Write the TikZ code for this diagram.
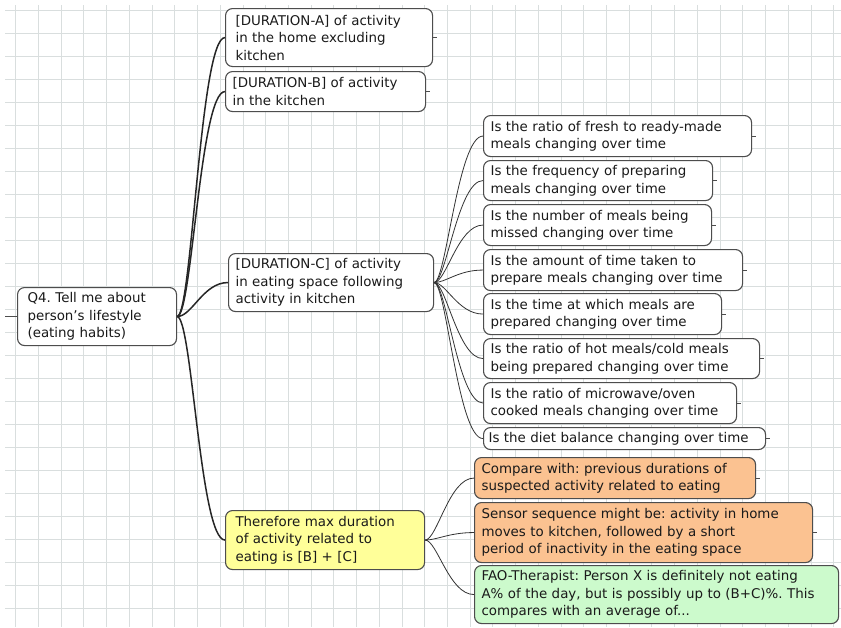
\documentclass[tikz,border=0pt]{standalone}
\usepackage{fontspec}
\setmainfont{DejaVu Sans}
\frenchspacing
\definecolor{mmline}{HTML}{4D4D4D}
\definecolor{mmgrid}{HTML}{D9DEDE}
\definecolor{mmtext}{HTML}{1A1A1A}
\definecolor{mmyellow}{HTML}{FFFF99}
\definecolor{mmorange}{HTML}{FBC291}
\definecolor{mmgreen}{HTML}{CCFACC}

\begin{document}
\begin{tikzpicture}[
  x=1pt, y=-1pt,
  every node/.style={font=\fontsize{13.4}{17.5}\selectfont, text=mmtext},
  topic/.style={rectangle, draw=mmline, line width=1.1pt, rounded corners=7pt, fill=white, anchor=north west, align=left, inner xsep=7pt, inner ysep=3pt},
  branch/.style={draw=black!85, line width=1.5pt},
  twig/.style={draw=black!80, line width=0.8pt},
  stub/.style={draw=mmline, line width=1pt},
  gridline/.style={mmgrid, line width=0.8pt},
]
\useasboundingbox (0,0) rectangle (841,627);
\fill[white] (0,0) rectangle (841,627);

% squared paper
\foreach \gx in {0,...,36} \draw[gridline] ({15.7+22.72*\gx},5) -- ++(0,622);
\foreach \gy in {0,...,26} \draw[gridline] (5,{10+23*\gy}) -- ++(836,0);

% central topic
\node[topic, inner xsep=10pt, text width=139, minimum height=58] (root) at (17,287) {Q4. Tell me about\\person's lifestyle\\(eating habits)};

% durations
\node[topic, inner xsep=10pt, text width=187, minimum height=58] (durA) at (225,8) {[DURATION-A] of activity\\in the home excluding\\kitchen};
\node[topic, text width=186, minimum height=40] (durB) at (225,71) {[DURATION-B] of activity\\in the kitchen};
\node[topic, text width=191, minimum height=58] (durC) at (228,253) {[DURATION-C] of activity\\in eating space following\\activity in kitchen};
\node[topic, inner xsep=10pt, fill=mmyellow, text width=179, minimum height=59] (maxdur) at (225,510) {Therefore max duration\\of activity related to\\eating is [B] + [C]};

% questions under duration C
\node[topic, text width=254, minimum height=41] (q1) at (483,115) {Is the ratio of fresh to ready-made\\meals changing over time};
\node[topic, text width=215, minimum height=40] (q2) at (483,160) {Is the frequency of preparing\\meals changing over time};
\node[topic, text width=214, minimum height=41] (q3) at (483,204) {Is the number of meals being\\missed changing over time};
\node[topic, text width=245, minimum height=41] (q4) at (483,249) {Is the amount of time taken to\\prepare meals changing over time};
\node[topic, text width=224, minimum height=41] (q5) at (483,293) {Is the time at which meals are\\prepared changing over time};
\node[topic, text width=262, minimum height=40] (q6) at (483,338) {Is the ratio of hot meals/cold meals\\being prepared changing over time};
\node[topic, text width=239, minimum height=41] (q7) at (483,382) {Is the ratio of microwave/oven\\cooked meals changing over time};
\node[topic, inner xsep=5pt, text width=272, minimum height=22, inner ysep=1pt] (q8) at (483,427) {Is the diet balance changing over time};

% notes under max duration
\node[topic, fill=mmorange, text width=267, minimum height=41] (cmp) at (474,457) {Compare with: previous durations of\\suspected activity related to eating};
\node[topic, fill=mmorange, text width=324, minimum height=60] (sensor) at (474,502) {Sensor sequence might be: activity in home\\moves to kitchen, followed by a short\\period of inactivity in the eating space};
\node[topic, fill=mmgreen, text width=350, minimum height=58] (fao) at (474,565) {FAO-Therapist: Person X is definitely not eating\\A\% of the day, but is possibly up to (B+C)\%. This\\compares with an average of...};

% connectors
\foreach \t in {durA, durB, durC, maxdur}
  \draw[branch] (root.east) .. controls +(15,0) and +(-25,0) .. (\t.west);
\foreach \t in {q1, q2, q3, q4, q5, q6, q7, q8}
  \draw[twig] (durC.east) .. controls +(12,0) and +(-25,0) .. (\t.west);
\foreach \t in {cmp, sensor, fao}
  \draw[twig] (maxdur.east) .. controls +(12,0) and +(-25,0) .. (\t.west);

% collapse ticks
\draw[stub] (root.west) -- ++(-12,0);
\foreach \n in {durA, durB, q1, q2, q3, q4, q5, q6, q7, q8, cmp, sensor}
  \draw[stub] (\n.east) -- ++(4,0);
\end{tikzpicture}
\end{document}
